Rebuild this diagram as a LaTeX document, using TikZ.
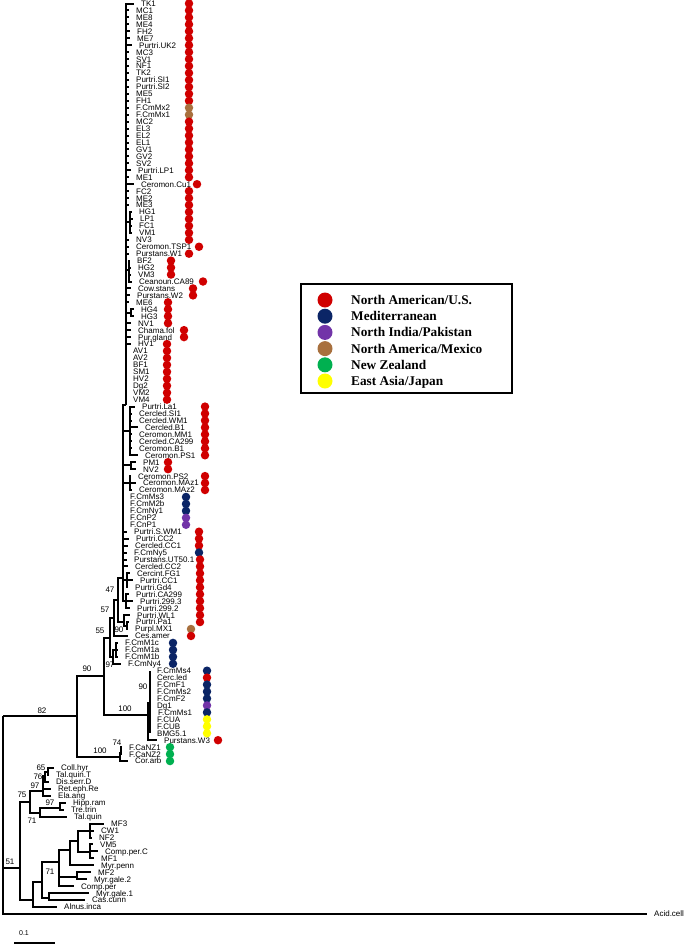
\documentclass[tikz,border=0pt]{standalone}
\usepackage{fontspec}
\setmainfont{Liberation Sans}
\newfontfamily\legfont{Liberation Serif}
\usetikzlibrary{positioning}
\definecolor{usred}{HTML}{D00000}
\definecolor{medblue}{HTML}{0B2566}
\definecolor{pakpurple}{HTML}{7234A8}
\definecolor{mexbrown}{HTML}{A8703E}
\definecolor{nzgreen}{HTML}{00B050}
\definecolor{jpyellow}{HTML}{FFFF00}
\tikzset{
  branch/.style={line width=2pt},
  leaf/.style={anchor=west, inner sep=0pt, xshift=7pt, text height=5.8pt, text depth=0pt,
               font=\fontsize{8}{9}\selectfont},
  boot/.style={inner sep=0pt, font=\fontsize{8}{9}\selectfont},
  dot/.style={circle, inner sep=0pt, minimum size=8.5pt},
  legdot/.style={circle, inner sep=0pt, minimum size=15pt},
  legtext/.style={anchor=west, inner sep=0pt, text height=9pt, text depth=0pt,
                  font=\legfont\bfseries\fontsize{13.3}{15}\selectfont}
}

\begin{document}
\begin{tikzpicture}[x=1pt, y=-1pt]
  \useasboundingbox (0,0) rectangle (685,946);

  % internal nodes of the tree
  \foreach \n/\x/\y in {root/3/716, n82/77/716, n90/104/676, n100z/120/757, n55/110/638,
      n100b/148/715, n57/114/618, n97/113/657, n47/118/600, nup/123/578, na/126/405,
      cla/130/431, cpm/131/465, cps/130/483, cfg/127/580, cca/126/601,
      shg/130/222, sbf/129/270, shg4/131/313, n90c/124/622, s90/127/626,
      sm1/116/650, n90d/150/703, n74/121/753,
      out/20/868, a/30/802, a1/43/791, a11/45/776, a111/48/772, a2/40/813, a21/60/808,
      b/33/900, b1/42/882, b2/59/862, b3/70/850, b4/78/841, b5/90/831, b6/90/852,
      bmg/77/877, bmc/49/898}
    \coordinate (\n) at (\x,\y);

  \foreach \p/\c in {root/n82, n82/n90, n82/n100z, n90/n55, n90/n100b, n55/n57, n55/n97,
      n57/n47, n47/nup, n47/n90c, n90c/s90, nup/na, nup/cla, nup/cpm, nup/cps, nup/cfg,
      nup/cca, na/shg, na/sbf, na/shg4, n97/sm1, n100b/n90d, n100z/n74,
      root/out, out/a, out/b, a/a1, a1/a11, a11/a111, a/a2, a2/a21,
      b/b1, b1/b2, b1/bmc, b2/b3, b2/bmg, b3/b4, b4/b5, b4/b6}
    \draw[branch] (\p) |- (\c);

  % leaves: index / tip x / parent / name
  \foreach \i/\tx/\p/\t in {
      1/134/na/TK1, 2/129/na/MC1, 3/129/na/ME8, 4/129/na/ME4, 5/130/na/FH2, 6/130/na/ME7,
      7/132/na/Purtri.UK2, 8/129/na/MC3, 9/129/na/SV1, 10/129/na/NF1, 11/129/na/TK2,
      12/129/na/Purtri.SI1, 13/129/na/Purtri.SI2, 14/129/na/ME5, 15/129/na/FH1,
      16/129/na/F.CmMx2, 17/129/na/F.CmMx1, 18/129/na/MC2, 19/129/na/EL3, 20/129/na/EL2,
      21/129/na/EL1, 22/129/na/GV1, 23/129/na/GV2, 24/129/na/SV2, 25/131/na/Purtri.LP1,
      26/129/na/ME1, 27/134/na/Ceromon.Cu1, 28/129/na/FC2, 29/129/na/ME2, 30/129/na/ME3,
      31/132/shg/HG1, 32/133/shg/LP1, 33/132/shg/FC1, 34/132/shg/VM1, 35/129/na/NV3,
      36/129/na/Ceromon.TSP1, 37/129/na/Purstans.W1, 38/130/sbf/BF2, 39/131/sbf/HG2,
      40/131/sbf/VM3, 41/132/sbf/Ceanoun.CA89, 42/131/na/Cow.stans, 43/130/na/Purstans.W2,
      44/129/na/ME6, 45/134/shg4/HG4, 46/134/shg4/HG3, 47/131/na/NV1, 48/131/na/Chama.fol,
      49/131/na/Pur.gland, 50/131/na/HV1, 51/126/na/AV1, 52/126/na/AV2, 53/126/na/BF1,
      54/126/na/SM1, 55/126/na/HV2, 56/126/na/Dg2, 57/126/na/VM2, 58/126/na/VM4,
      59/135/cla/Purtri.La1, 60/132/cla/Cercled.SI1, 61/132/cla/Cercled.WM1,
      62/138/cla/Cercled.B1, 63/132/cla/Ceromon.MM1, 64/132/cla/Cercled.CA299,
      65/132/cla/Ceromon.B1, 66/138/cla/Ceromon.PS1, 67/136/cpm/PM1, 68/136/cpm/NV2,
      69/131/cps/Ceromon.PS2, 70/136/cps/Ceromon.MAz1, 71/132/cps/Ceromon.MAz2,
      72/123/nup/F.CmMs3, 73/123/nup/F.CmM2b, 74/123/nup/F.CmNy1, 75/123/nup/F.CnP2,
      76/123/nup/F.CnP1, 77/127/nup/Purtri.S.WM1, 78/129/nup/Purtri.CC2,
      79/128/nup/Cercled.CC1, 80/127/nup/F.CmNy5, 81/127/nup/Purstans.UT50.1,
      82/128/nup/Cercled.CC2, 83/130/cfg/Cercint.FG1, 84/133/cfg/Purtri.CC1,
      85/128/cfg/Purtri.Gd4, 86/129/cca/Purtri.CA299, 87/133/cca/Purtri.299.3,
      88/130/cca/Purtri.299.2, 89/130/n90c/Purtri.WL1, 90/129/s90/Purtri.Pa1,
      91/128/s90/Purpl.MX1, 92/128/n57/Ces.amer, 93/118/sm1/F.CmM1c, 94/118/sm1/F.CmM1a,
      95/118/sm1/F.CmM1b, 96/121/n97/F.CmNy4, 97/150/n90d/F.CmMs4, 98/150/n90d/Cerc.led,
      99/150/n90d/F.CmF1, 100/150/n90d/F.CmMs2, 101/150/n90d/F.CmF2, 102/150/n90d/Dg1,
      103/151/n90d/F.CmMs1, 104/150/n90d/F.CUA, 105/150/n90d/F.CUB, 106/150/n90d/BMG5.1,
      107/157/n100b/Purstans.W3, 108/122/n74/F.CaNZ1, 109/122/n74/F.CaNZ2,
      110/128/n100z/Cor.arb, 111/54/a111/Coll.hyr, 112/49/a111/Tal.quin.T,
      113/49/a11/Dis.serr.D, 114/51/a1/Ret.eph.Re, 115/51/a1/Ela.ang, 116/66/a21/Hipp.ram,
      117/64/a21/Tre.trin, 118/67/a2/Tal.quin, 119/104/b5/MF3, 120/94/b5/CW1, 121/92/b5/NF2,
      122/93/b6/VM5, 123/98/b6/Comp.per.C, 124/94/b6/MF1, 125/94/b3/Myr.penn,
      126/91/bmg/MF2, 127/87/bmg/Myr.gale.2, 128/74/b2/Comp.per, 129/89/bmc/Myr.gale.1,
      130/85/bmc/Cas.cunn, 131/57/b/Alnus.inca, 132/647/root/Acid.cell}{
    \coordinate (t\i) at (\tx,{3.5+(\i-1)*6.95});
    \draw[branch] (\p) |- (t\i);
    \node[leaf] (l\i) at (t\i) {\t};
  }

  % bootstrap values
  \foreach \v/\x/\y [count=\k] in {82/42/711, 90/87/669, 100/125/709, 90/143/687,
      100/100/751, 74/117/743, 55/100/631, 57/105/610, 47/110/590, 90/119/630,
      97/110/665, 65/41/768, 76/38/777, 97/35/786, 75/22/795, 97/50/803, 71/32/821,
      71/50/872, 51/10/862}
    \node[boot] (bs\k) at (\x,\y) {\v};

  % region dots: first / last leaf / x / colour
  \foreach \s/\e/\dx/\c in {1/15/189/usred, 16/17/189/mexbrown, 18/26/189/usred,
      27/27/197/usred, 28/35/189/usred, 36/36/199/usred, 37/37/189/usred,
      38/40/171/usred, 41/41/203/usred, 42/43/193/usred, 44/47/168/usred,
      48/49/184/usred, 50/58/167/usred, 59/66/205/usred, 67/68/168/usred,
      69/71/205/usred, 72/74/186/medblue, 75/76/186/pakpurple, 77/79/199/usred,
      80/80/199/medblue, 81/90/200/usred, 91/91/191/mexbrown, 92/92/191/usred,
      93/96/173/medblue, 97/97/207/medblue, 98/98/207/usred, 99/101/207/medblue,
      102/102/207/pakpurple, 103/103/207/medblue, 104/106/207/jpyellow,
      107/107/218/usred, 108/110/170/nzgreen}
    \foreach \i in {\s,...,\e}
      \node[dot, fill=\c] (d\i) at (\dx,{3.5+(\i-1)*6.95}) {};

  % legend
  \node[draw, line width=1.6pt, minimum width=211pt, minimum height=109pt] (legend) at (406.5,338.5) {};
  \foreach \c/\t [count=\k] in {usred/{North American/U.S.}, medblue/{Mediterranean},
      pakpurple/{North India/Pakistan}, mexbrown/{North America/Mexico},
      nzgreen/{New Zealand}, jpyellow/{East Asia/Japan}} {
    \node[legdot, fill=\c] (k\k) at (325,{300+(\k-1)*16.2}) {};
    \node[legtext] (kt\k) at (351,{300+(\k-1)*16.2}) {\t};
  }

  % scale bar
  \coordinate (sbl) at (14,943);
  \coordinate (sbr) at (55,943);
  \draw[line width=1.8pt] (sbl) -- (sbr);
  \node[boot, font=\fontsize{7}{8}\selectfont] (sblab) at (24,933) {0.1};
\end{tikzpicture}
\end{document}
